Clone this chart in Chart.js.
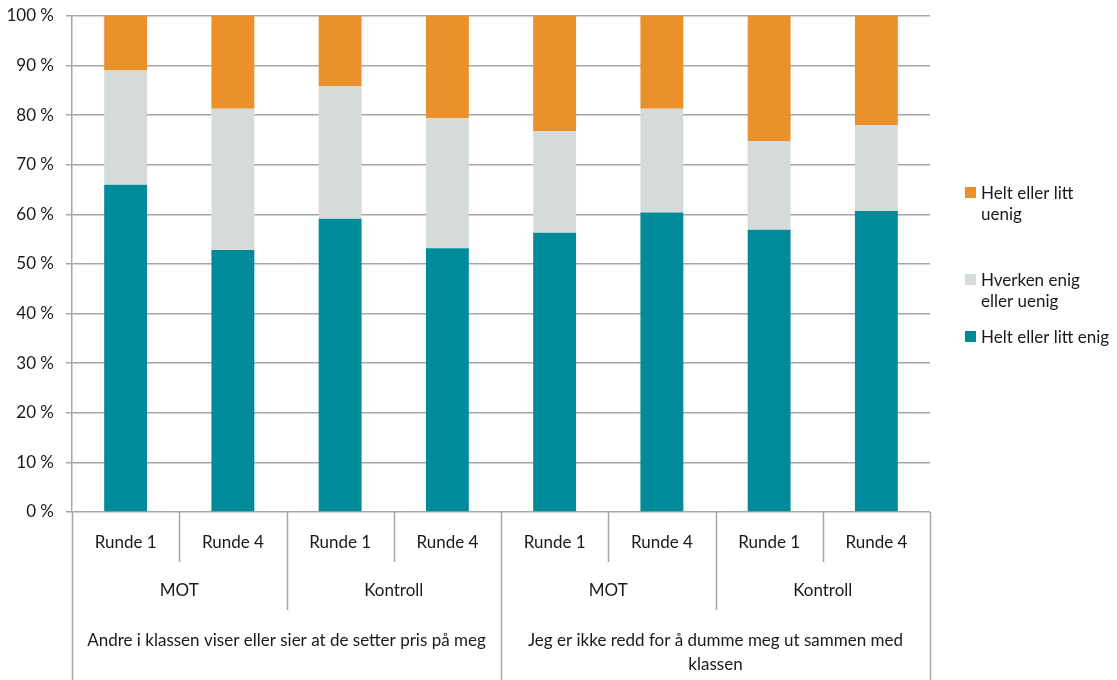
<!DOCTYPE html>
<html>
<head>
<meta charset="utf-8">
<script src="https://cdn.jsdelivr.net/npm/chart.js@4.4.0/dist/chart.umd.min.js"></script>
<style>
  html, body { margin: 0; padding: 0; background: #fff; }
  #wrap { width: 1117px; height: 680px; }
</style>
</head>
<body>
<div id="wrap"><canvas id="chart" width="1117" height="680"></canvas></div>
<script>
'use strict';

// category levels (innermost first)
const rounds = ['Runde 1', 'Runde 4', 'Runde 1', 'Runde 4', 'Runde 1', 'Runde 4', 'Runde 1', 'Runde 4'];
const groups = ['MOT', 'Kontroll', 'MOT', 'Kontroll'];
const questions = [
  'Andre i klassen viser eller sier at de setter pris på meg',
  'Jeg er ikke redd for å dumme meg ut sammen med klassen',
];

// series values (percent)
const enig = [66.0, 52.8, 59.1, 53.2, 56.3, 60.4, 56.9, 60.7];
const hverken = [23.0, 28.5, 26.8, 26.2, 20.5, 20.9, 17.9, 17.3];
const uenig = [11.0, 18.7, 14.1, 20.6, 23.2, 18.7, 25.2, 22.0];

// legend texts, line breaks as in the original
const seriesLabels = ['Helt eller litt enig', 'Hverken enig\neller uenig', 'Helt eller litt\nuenig'];

const yTicks = [0, 10, 20, 30, 40, 50, 60, 70, 80, 90, 100];

const FONT = 'Lato, "Open Sans", sans-serif';
const FONT_SIZE = 17;
const LINE = '#a6a6a6';
const TEXT = '#1a1a1a';

function wrapText(ctx, text, maxWidth) {
  const words = text.split(' ');
  const lines = [];
  let cur = '';
  words.forEach((w) => {
    const test = cur ? cur + ' ' + w : w;
    if (ctx.measureText(test).width > maxWidth && cur) {
      lines.push(cur);
      cur = w;
    } else {
      cur = test;
    }
  });
  if (cur) lines.push(cur);
  return lines;
}

// draws the three-level category axis and the legend
const multiAxis = {
  id: 'multiAxis',
  afterDraw(chart) {
    const { ctx, chartArea, scales } = chart;
    const x = scales.x;
    const n = rounds.length;
    const step = (chartArea.right - chartArea.left) / n;
    const bottom = chartArea.bottom;
    const edge = (i) => x.getPixelForValue(i) - step / 2;

    ctx.save();
    ctx.strokeStyle = LINE;
    ctx.lineWidth = 1.5;
    for (let i = 0; i <= n; i++) {
      let len = 50;
      if (i % 2 === 0) len = 98;
      if (i % 4 === 0) len = 168;
      const px = Math.round(edge(i)) + 0.5;
      ctx.beginPath();
      ctx.moveTo(px, bottom);
      ctx.lineTo(px, bottom + len);
      ctx.stroke();
    }

    ctx.fillStyle = TEXT;
    ctx.font = FONT_SIZE + 'px ' + FONT;
    ctx.textAlign = 'center';
    ctx.textBaseline = 'middle';
    rounds.forEach((r, i) => {
      ctx.fillText(r, x.getPixelForValue(i), bottom + 31);
    });
    groups.forEach((g, i) => {
      const cx = (edge(i * 2) + edge(i * 2 + 2)) / 2;
      ctx.fillText(g, cx, bottom + 79);
    });
    questions.forEach((q, i) => {
      const l = edge(i * 4), r = edge(i * 4 + 4);
      const lines = wrapText(ctx, q, r - l - 14);
      lines.forEach((line, j) => {
        ctx.fillText(line, (l + r) / 2, bottom + 129 + j * 24);
      });
    });

    // legend, top entry = last dataset
    const items = chart.data.datasets.slice().reverse();
    const tops = [194, 281, 338];
    ctx.textAlign = 'left';
    items.forEach((ds, i) => {
      ctx.fillStyle = ds.backgroundColor;
      ctx.fillRect(965, tops[i] - 7, 11, 11);
      ctx.fillStyle = TEXT;
      ds.label.split('\n').forEach((line, j) => {
        ctx.fillText(line, 981, tops[i] + j * 21);
      });
    });
    ctx.restore();
  },
};

new Chart(document.getElementById('chart'), {
  type: 'bar',
  data: {
    labels: rounds,
    datasets: [
      { label: seriesLabels[0], data: enig, backgroundColor: '#008b9b' },
      { label: seriesLabels[1], data: hverken, backgroundColor: '#d5dbdb' },
      { label: seriesLabels[2], data: uenig, backgroundColor: '#eb912b' },
    ],
  },
  options: {
    responsive: false,
    animation: false,
    layout: { padding: { top: 16, right: 187, bottom: 168, left: 0 } },
    datasets: {
      bar: { categoryPercentage: 1, barPercentage: 0.4, borderWidth: 0 },
    },
    scales: {
      x: {
        stacked: true,
        display: false,
      },
      y: {
        stacked: true,
        min: 0,
        max: 100,
        afterFit(scale) {
          scale.width = 72;
          scale.paddingTop = 0;
          scale.paddingBottom = 0;
        },
        afterBuildTicks(scale) { scale.ticks = yTicks.map((v) => ({ value: v })); },
        ticks: {
          callback: (v) => v + ' %',
          font: { family: FONT, size: FONT_SIZE },
          color: TEXT,
          padding: 12,
        },
        grid: { color: LINE, lineWidth: 1.5, tickLength: 6 },
        border: { color: LINE, width: 1.5 },
      },
    },
    plugins: {
      legend: { display: false },
      tooltip: { enabled: false },
    },
  },
  plugins: [multiAxis],
});
</script>
</body>
</html>
